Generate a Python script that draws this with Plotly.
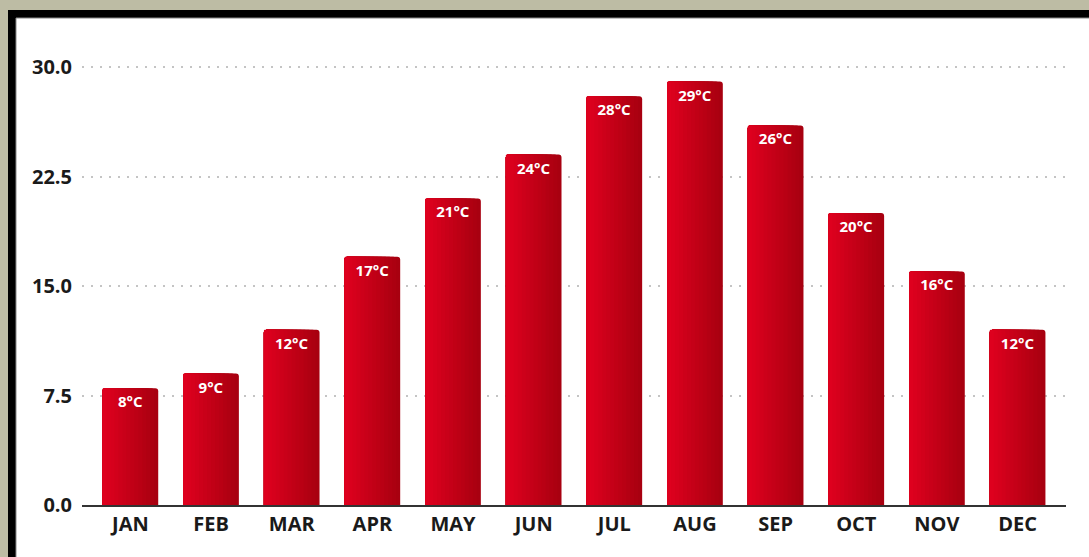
import plotly.graph_objects as go

months = ["JAN", "FEB", "MAR", "APR", "MAY", "JUN", "JUL", "AUG", "SEP", "OCT", "NOV", "DEC"]
temps = [8, 9, 12, 17, 21, 24, 28, 29, 26, 20, 16, 12]
labels = [f"{t}°C" for t in temps]
y_ticks = [0, 7.5, 15, 22.5, 30]
y_top = 30.48

W, H = 1089, 557
ML, MR, MT, MB = 82, 23, 60, 52
PW, PH = W - ML - MR, H - MT - MB

def px_x(p):
    return (p - ML) / PW

def px_y(p):
    return (H - MB - p) / PH

bar_w = 0.69
dark = (168, 0, 16)
bright = (222, 0, 30)
N = 14

fig = go.Figure()
for k in range(N):
    f = k / (N - 1)
    col = tuple(round(dark[i] + (bright[i] - dark[i]) * f) for i in range(3))
    wk = bar_w * (1 - k / N)
    fig.add_trace(go.Bar(
        x=months, y=temps,
        width=[wk] * len(months),
        offset=[-bar_w / 2] * len(months),
        marker=dict(color="rgb(%d,%d,%d)" % col, line=dict(width=0), cornerradius=3),
        hoverinfo="skip", showlegend=False,
    ))

fig.add_trace(go.Bar(
    x=months, y=temps, text=labels,
    width=[bar_w] * len(months),
    offset=[-bar_w / 2] * len(months),
    marker=dict(color="rgba(0,0,0,0)", line=dict(width=0)),
    textposition="inside", insidetextanchor="end", textangle=0,
    textfont=dict(family="Open Sans", size=15, color="white", weight="bold"),
    showlegend=False,
))

fig.update_layout(
    width=W, height=H,
    margin=dict(l=ML, r=MR, t=MT, b=MB, pad=0),
    paper_bgcolor="#bdbca4",
    plot_bgcolor="rgba(0,0,0,0)",
    barmode="overlay",
    font=dict(family="Open Sans", color="#1a1a1a"),
    shapes=[
        dict(type="rect", xref="paper", yref="paper", layer="below",
             x0=px_x(8), x1=px_x(W + 10), y0=px_y(H + 10), y1=px_y(10),
             fillcolor="black", line=dict(width=0)),
        dict(type="rect", xref="paper", yref="paper", layer="below",
             x0=px_x(16), x1=px_x(W + 10), y0=px_y(H + 10), y1=px_y(18),
             fillcolor="white", line=dict(color="#888888", width=1)),
    ],
)

fig.update_xaxes(
    range=[-0.6, 11.6],
    showline=True, linecolor="#333333", linewidth=2,
    showgrid=False, ticks="",
    tickfont=dict(family="Open Sans", size=20, color="#1a1a1a", weight="bold"),
    ticklabelstandoff=0,
)
fig.update_yaxes(
    range=[0, y_top],
    tickvals=y_ticks, tickformat=".1f",
    showgrid=True, gridcolor="#c4c4c4", gridwidth=2, griddash="2px,7px",
    zeroline=False, showline=False, ticks="",
    tickfont=dict(family="Open Sans", size=20, color="#1a1a1a", weight="bold"),
    ticklabelstandoff=9,
)

fig.write_html("out.html", config={"displayModeBar": False})
with open("out.html", "r", encoding="utf-8") as fh:
    html = fh.read()
html = html.replace("<body>", '<body style="margin:0;padding:0;overflow:hidden">', 1)
html = html.replace("<head>", '<head><style>html,body{margin:0;padding:0;}</style>', 1)
with open("out.html", "w", encoding="utf-8") as fh:
    fh.write(html)
